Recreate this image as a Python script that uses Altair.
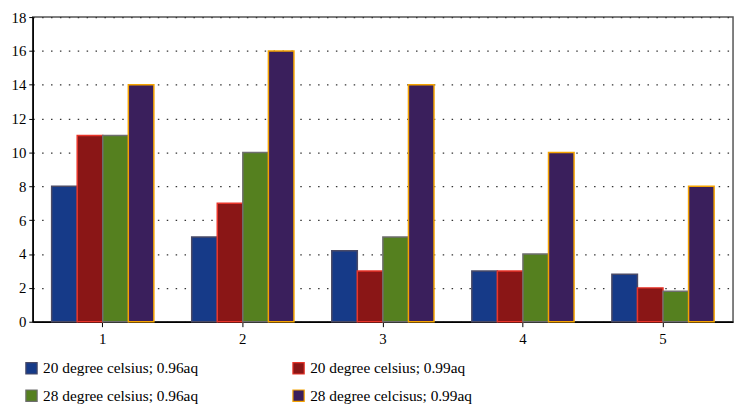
import altair as alt
import pandas as pd

groups = ["1", "2", "3", "4", "5"]
series = [
    "20 degree celsius; 0.96aq",
    "20 degree celsius; 0.99aq",
    "28 degree celsius; 0.96aq",
    "28 degree celcisus; 0.99aq",
]
values = {
    series[0]: [8, 5, 4.2, 3, 2.8],
    series[1]: [11, 7, 3, 3, 2],
    series[2]: [11, 10, 5, 4, 1.8],
    series[3]: [14, 16, 14, 10, 8],
}
fill_colors = ["#163A88", "#8A1616", "#55801F", "#3A1F5C"]
stroke_colors = ["#4A4A66", "#E8352A", "#6E6E6E", "#F5A300"]

rows = []
for s in series:
    for g, v in zip(groups, values[s]):
        rows.append({"group": g, "series": s, "value": v})
df = pd.DataFrame(rows)

# legend laid out column by column: reorder so rows read as in the reference
legend_order = [series[0], series[2], series[1], series[3]]
fill_order = [fill_colors[0], fill_colors[2], fill_colors[1], fill_colors[3]]
stroke_order = [stroke_colors[0], stroke_colors[2], stroke_colors[1], stroke_colors[3]]

FONT = "Liberation Serif"

chart = alt.Chart(df).mark_bar(strokeWidth=1.5).encode(
    x=alt.X("group:N", sort=groups, title=None,
            scale=alt.Scale(paddingInner=0.27, paddingOuter=0.135),
            axis=alt.Axis(labelAngle=0, tickSize=5, labelPadding=5,
                          domainColor="#000", tickColor="#000", domainWidth=1.5)),
    xOffset=alt.XOffset("series:N", sort=series),
    y=alt.Y("value:Q", title=None,
            scale=alt.Scale(domain=[0, 18], nice=False),
            axis=alt.Axis(values=list(range(0, 19, 2)), tickSize=4, labelPadding=3,
                          domainColor="#000", tickColor="#000", domainWidth=1.5,
                          grid=True, gridColor="#333", gridDash=[1.5, 7.5], gridWidth=1.2)),
    fill=alt.Fill("series:N",
                  scale=alt.Scale(domain=legend_order, range=fill_order),
                  legend=alt.Legend(title=None, orient="none", legendX=-9, legendY=347,
                                    columns=2, columnPadding=92, rowPadding=10,
                                    symbolType="square", symbolSize=130,
                                    symbolStrokeWidth=1.2,
                                    labelFont=FONT, labelFontSize=15.5, labelColor="#000",
                                    labelLimit=400)),
    stroke=alt.Stroke("series:N",
                      scale=alt.Scale(domain=legend_order, range=stroke_order),
                      legend=None),
).properties(
    width=708, height=308,
    autosize=alt.AutoSizeParams(type="none"),
    padding={"left": 25, "top": 7, "right": 3, "bottom": 81},
).configure_axis(
    labelFont=FONT, labelFontSize=15, labelColor="#000",
).configure_view(
    stroke="#555", strokeWidth=1.5,
)

chart.save("out.html", embed_options={"renderer": "svg", "actions": False})
